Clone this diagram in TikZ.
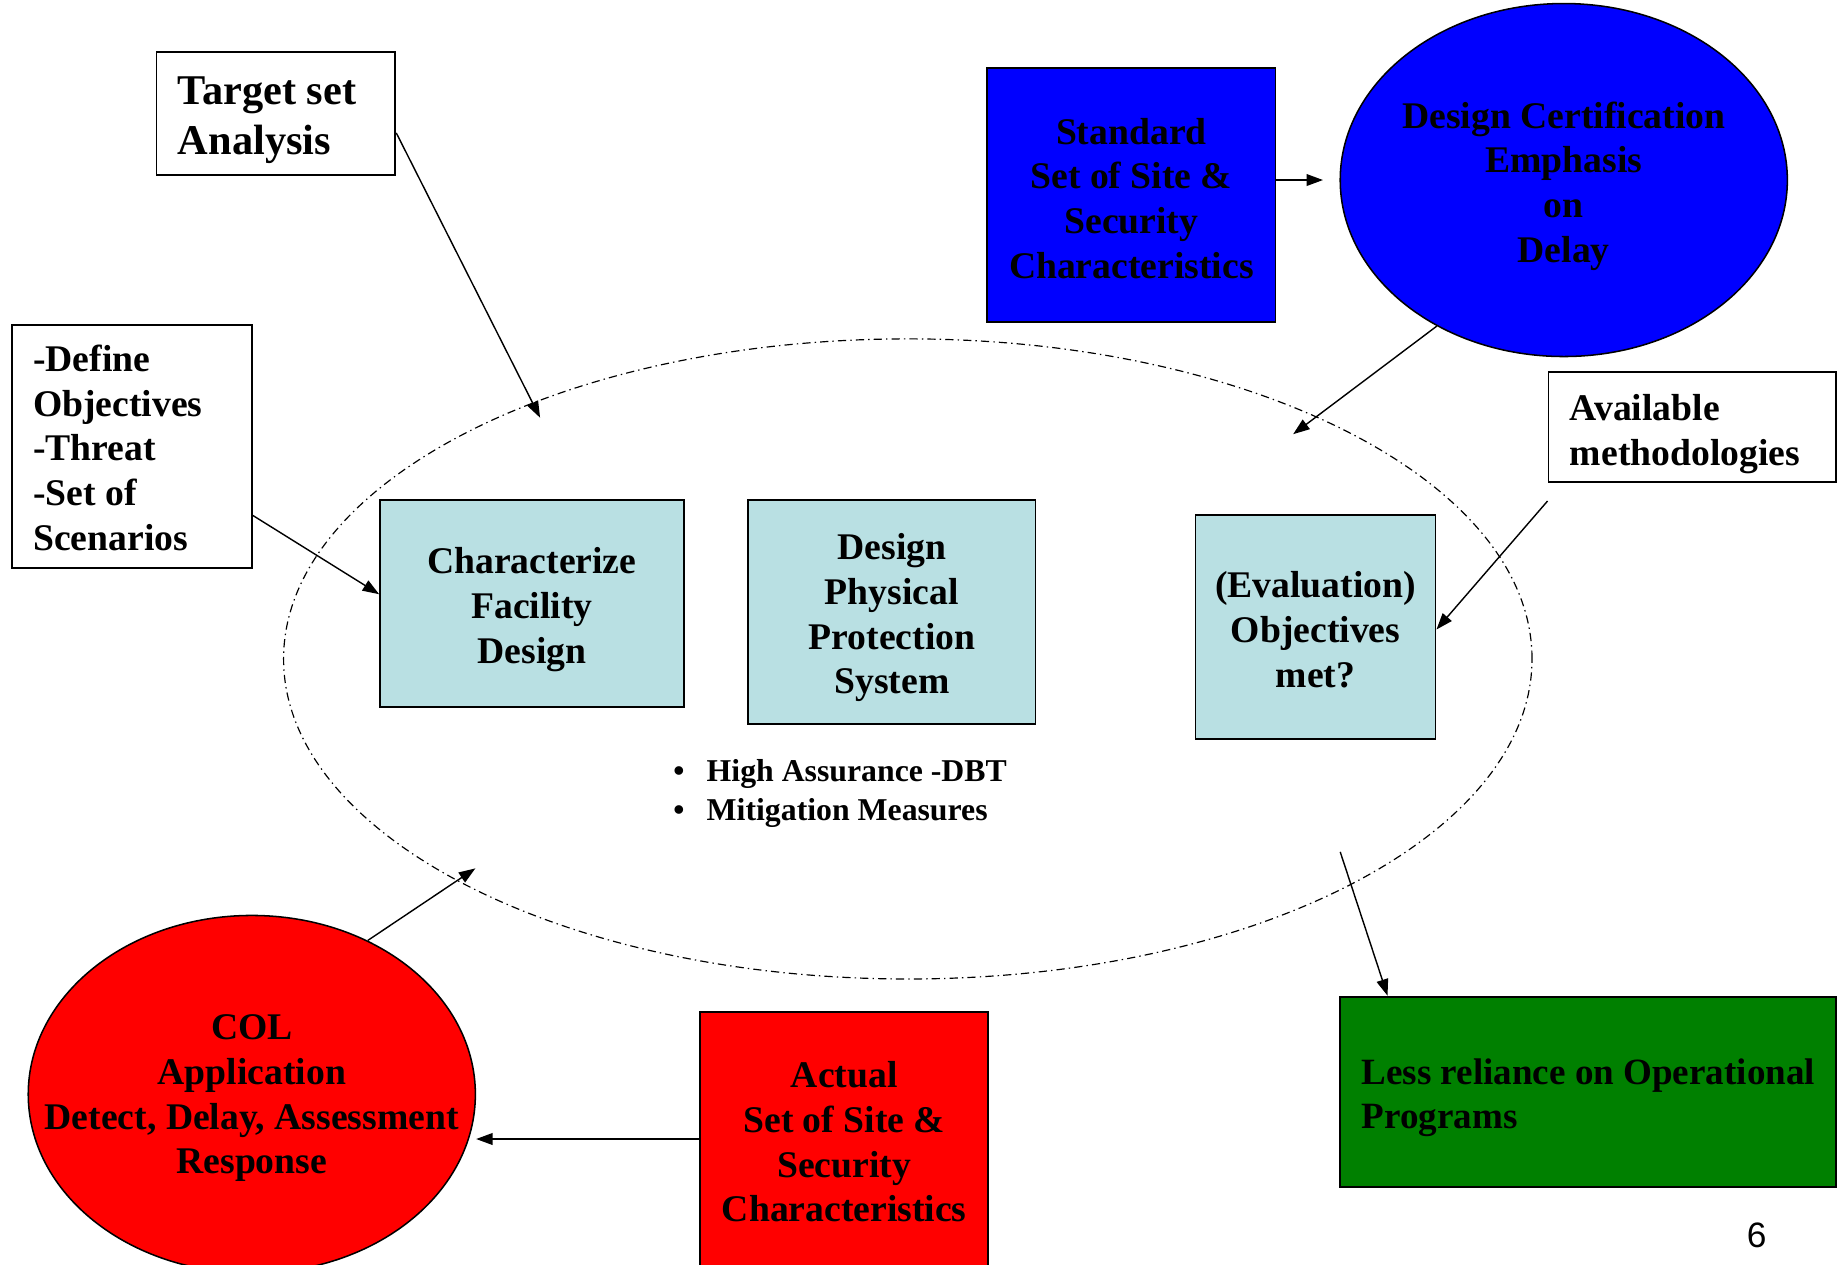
\documentclass[tikz,border=0pt]{standalone}
\usepackage{fontspec}
\setmainfont{Liberation Serif}
\newfontfamily\numfont{Liberation Sans}
\usetikzlibrary{shapes.geometric,arrows.meta}
\definecolor{lb}{RGB}{185,224,227}
\definecolor{bl}{RGB}{0,0,255}
\definecolor{rd}{RGB}{255,0,0}
\definecolor{gn}{RGB}{0,128,0}
\begin{document}
\begin{tikzpicture}[x=1pt,y=-1pt,
  box/.style={draw, line width=1.6pt, inner sep=0pt},
  oval/.style={ellipse, draw, line width=1.3pt, inner sep=0pt},
  txt/.style={inner sep=0pt, align=center, font=\fontsize{32}{38}\selectfont\bfseries},
  ltxt/.style={txt, align=left, anchor=west},
  arr/.style={line width=1.2pt, -{Triangle[length=14pt,width=10pt]}},
  dashdot/.style={line width=1pt, dash pattern=on 7pt off 3.5pt on 1.2pt off 3.5pt},
]
\useasboundingbox (0,0) rectangle (1568,1075);
\clip (0,0) rectangle (1568,1075);

% big dash-dot ellipse
\node[ellipse, draw, dashdot, inner sep=0pt, minimum width=1061pt, minimum height=544pt] (big) at (771.5,560) {};

% top-left boxes
\node[box, minimum width=203pt, minimum height=105pt] (ts) at (234.5,96.5) {};
\node[ltxt, font=\fontsize{36}{43}\selectfont\bfseries] (tst) at (151,102) {Target set\\Analysis};
\node[box, minimum width=204pt, minimum height=207pt] (def) at (112,379.5) {};
\node[ltxt] (deft) at (28,380.5) {-Define\\Objectives\\-Threat\\-Set of\\Scenarios};

% blue
\node[box, fill=bl, minimum width=245pt, minimum height=216pt] (std) at (961.5,166) {};
\node[txt] (stdt) at (961.5,168.5) {Standard\\Set of Site \&\\Security\\Characteristics};
\node[oval, fill=bl, minimum width=380pt, minimum height=300pt] (dc) at (1329,153) {};
\node[txt] (dct) at (1329,158) {Design Certification\\Emphasis\\on\\Delay};

% central boxes
\node[box, fill=lb, minimum width=258pt, minimum height=176pt] (char) at (452,513) {};
\node[txt] (chart) at (452,518) {Characterize\\Facility\\Design};
\node[box, fill=lb, minimum width=244pt, minimum height=190pt] (pps) at (758,520) {};
\node[txt] (ppst) at (758,525) {Design\\Physical\\Protection\\System};
\node[box, fill=lb, minimum width=204pt, minimum height=190pt] (ev) at (1118,533) {};
\node[txt] (evt) at (1118,535) {(Evaluation)\\Objectives\\met?};
\node[box, minimum width=244pt, minimum height=94pt] (av) at (1438,363) {};
\node[ltxt] (avt) at (1334,369) {Available\\methodologies};

% bullets
\node[ltxt, font=\fontsize{27}{33}\selectfont\bfseries] (bul) at (572,674)
  {\textbullet\hspace{19pt}High Assurance -DBT\\\textbullet\hspace{19pt}Mitigation Measures};

% bottom
\node[oval, fill=rd, minimum width=380pt, minimum height=304pt] (col) at (214,930) {};
\node[txt] (colt) at (214,933.5) {COL\\Application\\Detect, Delay, Assessment\\Response};
\node[box, fill=rd, minimum width=245pt, minimum height=216pt] (act) at (717.5,968) {};
\node[txt] (actt) at (717.5,970.5) {Actual\\Set of Site \&\\Security\\Characteristics};
\node[box, fill=gn, minimum width=421pt, minimum height=162pt] (gr) at (1349.5,928) {};
\node[ltxt, font=\fontsize{31.5}{38}\selectfont\bfseries] (grt) at (1157,933) {Less reliance on Operational\\Programs};

\node[font=\numfont\fontsize{30}{36}\selectfont, inner sep=0pt] (pg) at (1493,1050) {6};

% free ends on the big ellipse
\coordinate (tsend) at (459,355);
\coordinate (dcend) at (1099,369);
\coordinate (colend) at (404,738);
\coordinate (bigout) at (1139,724);

% connectors
\draw[arr] ([yshift=-16.5pt]ts.east) -- (tsend);
\draw[arr] ([yshift=-58.5pt]def.east) -- ([yshift=8pt]char.west);
\draw[arr] ([yshift=13pt]std.east) -- ([xshift=-14pt]dc.west);
\draw[arr] (dc.229) -- (dcend);
\draw[arr] ([yshift=-15pt]av.south west) -- ([yshift=-2pt]ev.east);
\draw[arr] (col.53) -- (colend);
\draw[arr] (bigout) -- ([xshift=41pt]gr.north west);
\draw[arr] (act.west) -- (act.west -| col.east);
\end{tikzpicture}
\end{document}
